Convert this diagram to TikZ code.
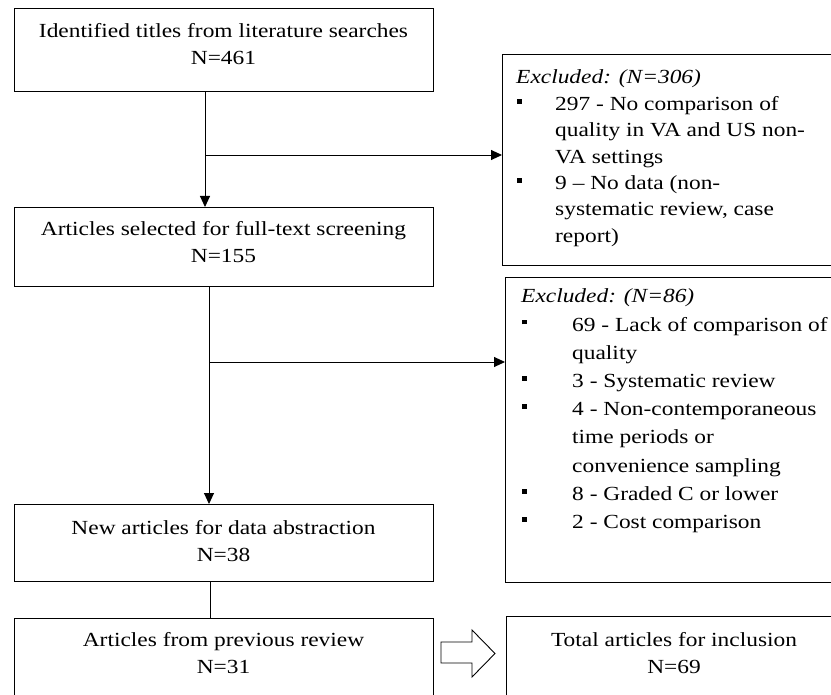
\documentclass[tikz,border=0pt]{standalone}
\usepackage{fontspec}
\setmainfont{Liberation Serif}[FakeStretch=1.17]
\usetikzlibrary{arrows.meta}
\newcommand{\bulA}{\makebox[39pt][l]{\hspace*{1pt}\rule[6.8pt]{4.3pt}{4.8pt}}}
\newcommand{\bulB}{\makebox[51pt][l]{\hspace*{1pt}\rule[6.8pt]{4.3pt}{4.8pt}}}
\begin{document}
\begin{tikzpicture}[x=1pt,y=-1pt,
  box/.style={draw=black,line width=0.9pt,inner sep=0pt,anchor=north west},
  maintxt/.style={inner sep=0pt,anchor=base,font=\fontsize{20}{27}\selectfont},
  exctxt/.style={inner sep=0pt,anchor=base west,align=left},
  conn/.style={draw=black,line width=0.9pt},
  arr/.style={conn,-{Triangle[length=11pt,width=10pt]}},
  hollow/.style={draw=black,line width=0.9pt,fill=white}]
\useasboundingbox (0,0) rectangle (831,695);
\clip (0,0) rectangle (831,695);
% boxes
\node[box,minimum width=419pt,minimum height=83pt] (b1) at (14,8) {};
\node[box,minimum width=419pt,minimum height=79pt] (b2) at (14,207) {};
\node[box,minimum width=419pt,minimum height=77pt] (b3) at (14,504) {};
\node[box,minimum width=419pt,minimum height=110pt] (b4) at (14,618) {};
\node[box,minimum width=345pt,minimum height=110pt] (b5) at (506,616) {};
\node[box,minimum width=345pt,minimum height=211pt] (e1) at (502,54) {};
\node[box,minimum width=345pt,minimum height=305pt] (e2) at (505,277) {};
% main texts
\node[maintxt] (t1) at (223.5,38) {\begin{tabular}[t]{@{}c@{}}Identified titles from literature searches\\N=461\end{tabular}};
\node[maintxt] (t2) at (223.5,236) {\begin{tabular}[t]{@{}c@{}}Articles selected for full-text screening\\N=155\end{tabular}};
\node[maintxt] (t3) at (223.5,534) {\begin{tabular}[t]{@{}c@{}}New articles for data abstraction\\N=38\end{tabular}};
\node[maintxt] (t4) at (223.5,646) {\begin{tabular}[t]{@{}c@{}}Articles from previous review\\N=31\end{tabular}};
\node[maintxt] (t5) at (674,646) {\begin{tabular}[t]{@{}c@{}}Total articles for inclusion\\N=69\end{tabular}};
% excluded texts
\node[exctxt,font=\fontsize{20}{26.4}\selectfont] (x1) at (516,84) {\begin{tabular}[t]{@{}l@{}l@{}}
\multicolumn{2}{@{}l}{\textit{Excluded: (N=306)}}\\
\bulA & 297 - No comparison of\\
 & quality in VA and US non-\\
 & VA settings\\
\bulA & 9 – No data (non-\\
 & systematic review, case\\
 & report)
\end{tabular}};
\node[exctxt,font=\fontsize{20}{28.2}\selectfont] (x2) at (521,303) {\begin{tabular}[t]{@{}l@{}l@{}}
\multicolumn{2}{@{}l}{\textit{Excluded: (N=86)}}\\
\bulB & 69 - Lack of comparison of\\
 & quality\\
\bulB & 3 - Systematic review\\
\bulB & 4 - Non-contemporaneous\\
 & time periods or\\
 & convenience sampling\\
\bulB & 8 - Graded C or lower\\
\bulB & 2 - Cost comparison
\end{tabular}};
% connectors
\coordinate (c1) at (205,155);
\coordinate (c2) at (209,362);
\coordinate (c3) at (210,600);
\draw[arr] (b1.south -| c1) -- (b2.north -| c1);
\draw[arr] (c1) -- (c1 -| e1.west);
\draw[arr] (b2.south -| c2) -- (b3.north -| c2);
\draw[arr] (c2) -- (c2 -| e2.west);
\draw[conn] (b3.south -| c3) -- (b4.north -| c3);
% hollow arrow between b4 and b5
\draw[hollow] (441,642) -- (472,642) -- (472,630) -- (495,653.5) -- (472,677) -- (472,663) -- (441,663) -- cycle;
\end{tikzpicture}
\end{document}
